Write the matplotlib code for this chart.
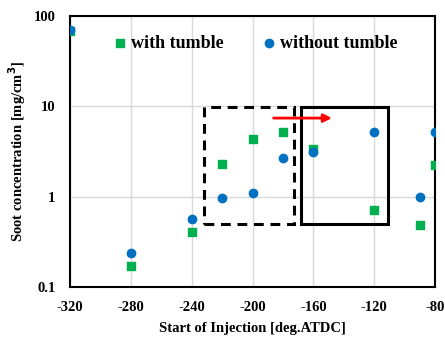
import matplotlib
matplotlib.use("Agg")
import matplotlib.pyplot as plt
from matplotlib.patches import Rectangle

# start of injection [deg.ATDC]
soi = [-320, -280, -240, -220, -200, -180, -160, -120, -90, -80]
with_tumble = [68, 0.17, 0.41, 2.3, 4.4, 5.2, 3.4, 0.71, 0.49, 2.24]
without_tumble = [70, 0.236, 0.56, 0.97, 1.11, 2.66, 3.15, 5.25, 1.0, 5.25]

plt.rcParams['font.family'] = ['Liberation Serif', 'DejaVu Serif']
plt.rcParams['font.weight'] = 'bold'
plt.rcParams['axes.unicode_minus'] = False

fig = plt.figure(figsize=(4.45, 3.37), dpi=100)
ax = fig.add_axes([0.157, 0.148, 0.821, 0.805])

ax.scatter(soi, with_tumble, marker='s', s=26, color='#00B050', label='with tumble', zorder=3)
ax.scatter(soi, without_tumble, marker='o', s=36, color='#0070C0', label='without tumble', zorder=4)

# highlighted regions
ax.add_patch(Rectangle((-232, 0.5), 59, 9.7 - 0.5, fill=False, ec='black',
                       lw=2.2, ls=(0, (3.2, 2.2)), zorder=5))
ax.add_patch(Rectangle((-168, 0.5), 57, 9.7 - 0.5, fill=False, ec='black',
                       lw=2.2, zorder=5))
ax.annotate('', xy=(-146, 7.4), xytext=(-188, 7.4),
            arrowprops=dict(arrowstyle='-|>', color='red', lw=2, mutation_scale=12),
            zorder=6)

ax.set_yscale('log')
ax.set_xlim(-320, -80)
ax.set_ylim(0.1, 100)
ax.set_xticks(range(-320, -79, 40))
ax.set_yticks([0.1, 1, 10, 100])
ax.set_yticklabels(['0.1', '1', '10', '100'])
ax.minorticks_off()
ax.tick_params(length=0, labelsize=10.5)
ax.tick_params(axis='x', pad=10)
ax.tick_params(axis='y', pad=10.5)
ax.grid(True, color='#d9d9d9', lw=1)
ax.set_axisbelow(True)
for sp in ax.spines.values():
    sp.set_linewidth(1.5)

ax.set_xlabel('Start of Injection [deg.ATDC]', fontsize=10.5, fontweight='bold', labelpad=5.5)
ax.set_ylabel('Soot concentration [mg/cm$^\\mathbf{3}$]', fontsize=10.5, fontweight='bold')

ax.legend(loc='upper center', ncol=2, frameon=False, fontsize=13, scatterpoints=1,
          handlelength=0.6, handletextpad=0.3, columnspacing=2.2,
          bbox_to_anchor=(0.51, 0.99))

fig.savefig('out.png', dpi=100)
